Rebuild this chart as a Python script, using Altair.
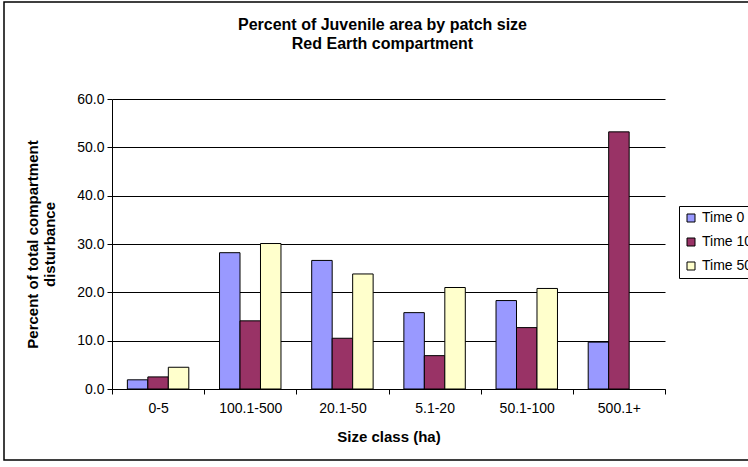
import altair as alt
import pandas as pd

# Patch-size classes (category order as listed on the axis)
size_classes = ["0-5", "100.1-500", "20.1-50", "5.1-20", "50.1-100", "500.1+"]
series_names = ["Time 0", "Time 10", "Time 50"]

# Percent of total compartment disturbance per class
time_0 = [1.9, 28.2, 26.6, 15.8, 18.3, 9.7]
time_10 = [2.5, 14.1, 10.5, 6.9, 12.7, 53.2]
time_50 = [4.5, 30.1, 23.8, 21.0, 20.8, None]

series_colors = ["#9999FF", "#993366", "#FFFFCC"]
y_ticks = [0, 10, 20, 30, 40, 50, 60]

rows = []
for name, vals in zip(series_names, [time_0, time_10, time_50]):
    for cls, v in zip(size_classes, vals):
        if v is not None:
            rows.append({"size_class": cls, "series": name, "percent": v})
df = pd.DataFrame(rows)

FONT = "Liberation Sans"
PLOT_W, PLOT_H = 553, 290

bars = alt.Chart(df).mark_bar(stroke="black", strokeWidth=1).encode(
    x=alt.X(
        "size_class:N",
        sort=size_classes,
        scale=alt.Scale(paddingInner=0, paddingOuter=0),
        axis=alt.Axis(
            title="Size class (ha)",
            labelAngle=0,
            tickBand="extent",
            tickSize=5,
            labelPadding=7,
            titlePadding=14,
            grid=False,
        ),
    ),
    xOffset=alt.XOffset(
        "series:N",
        sort=series_names,
        scale=alt.Scale(domain=series_names, paddingInner=0, paddingOuter=0.75),
    ),
    y=alt.Y(
        "percent:Q",
        scale=alt.Scale(domain=[0, 60], nice=False),
        axis=alt.Axis(
            title=["Percent of total compartment", "disturbance"],
            values=y_ticks,
            format=".1f",
            tickSize=5,
            labelPadding=3,
            titlePadding=19,
            grid=True,
        ),
    ),
    color=alt.Color(
        "series:N",
        sort=series_names,
        scale=alt.Scale(domain=series_names, range=series_colors),
        title=None,
        legend=alt.Legend(
            orient="none",
            legendX=567,
            legendY=107,
            fillColor="white",
            strokeColor="black",
            padding=5,
            symbolType="square",
            symbolSize=64,
            symbolStrokeColor="black",
            symbolStrokeWidth=1,
            labelFontSize=14,
            labelFont=FONT,
            labelColor="black",
            labelOffset=4,
            rowPadding=10,
        ),
    ),
)

# Outer chart-area border
frame = alt.Chart(pd.DataFrame({"k": [0]})).mark_rect(
    fillOpacity=0, stroke="black", strokeWidth=1.5
).encode(
    x=alt.value(-108), x2=alt.value(700), y=alt.value(-97), y2=alt.value(361)
)

chart = (
    alt.layer(frame, bars)
    .properties(
        width=PLOT_W,
        height=PLOT_H,
        autosize=alt.AutoSizeParams(type="none"),
        padding={"left": 112, "top": 99, "right": 83, "bottom": 78},
        title=alt.TitleParams(
            text=["Percent of Juvenile area by patch size", "Red Earth compartment"],
            frame="group",
            anchor="middle",
            baseline="top",
            offset=-51,
            dx=-6,
            fontSize=16,
            font=FONT,
            fontWeight="bold",
            color="black",
            lineHeight=19,
        ),
        background="white",
    )
    .configure_view(strokeWidth=0)
    .configure_axis(
        labelFont=FONT,
        titleFont=FONT,
        labelFontSize=14,
        titleFontSize=15,
        titleFontWeight="bold",
        labelColor="black",
        titleColor="black",
        domainColor="black",
        tickColor="black",
        gridColor="black",
        gridWidth=1,
    )
)

chart.save("out.html", embed_options={"renderer": "svg", "actions": False})
